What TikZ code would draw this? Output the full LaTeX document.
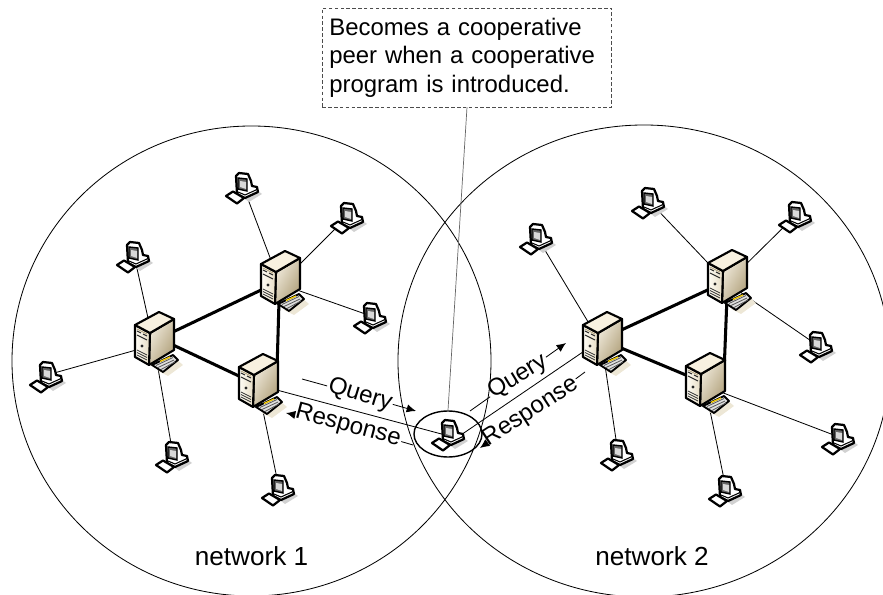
\documentclass[tikz,border=0pt]{standalone}
\usepackage{fontspec}
\setmainfont{Liberation Sans}
\usetikzlibrary{shapes.geometric,arrows.meta}
\definecolor{srvlight}{HTML}{FFFDF6}
\definecolor{srvtop}{HTML}{F8F1E0}
\definecolor{srvmid}{HTML}{E6DCC4}
\definecolor{srvdark}{HTML}{B0A07A}
\tikzset{
  lbl/.style={font=\fontsize{20.5}{24}\selectfont,inner sep=1pt},
  netlbl/.style={font=\fontsize{22.3}{26}\selectfont,inner sep=1pt},
  spoke/.style={line width=0.7pt},
  backbone/.style={line width=2.6pt},
  msg/.style={spoke,-{Latex[length=8pt,width=7pt]}},
  pics/server/.style={code={
    \fill[srvmid!70] (4,26) -- (22,14) -- (29,20) -- (14,31) -- cycle;
    \draw[line width=1.8pt,line join=round,left color=srvmid!60,right color=srvdark,shading angle=60]
      (-4,-12) -- (20,-26) -- (20,5) -- (-5,20) -- cycle;
    \draw[line width=1.8pt,line join=round,left color=srvlight,right color=srvmid]
      (-19,-20) -- (-4,-12) -- (-5,20) -- (-19,12) -- cycle;
    \draw[line width=1.8pt,line join=round,fill=srvtop] (-19,-20) -- (5,-33) -- (20,-26) -- (-4,-12) -- cycle;
    \draw[line width=0.9pt,black!85] (-17,-14) -- (-13,-12) (-11,-11) -- (-7,-9) (-17,-10) -- (-7,-5);
    \draw[line width=0.6pt,srvdark] (-17,-16) -- (-7,-11);
    \fill[black!85] (-12,1) circle [radius=1.7];
    \foreach \h in {5,7.5,10} \draw[line width=0.7pt,black!80] (-17,\h) -- (-7,\h+5);
    \draw[line width=1.6pt,line join=round,fill=black!12] (-2,20) -- (19,10) -- (24,15) -- (9,27) -- cycle;
    \draw[line width=0.7pt,black!65] (2,20.5) -- (19,12.5) (4,22.5) -- (20,15) (7,24.5) -- (21,17);
    \draw[line width=1.1pt,yellow!70!orange] (6,16.5) -- (16,12);
  }},
  pics/peer/.style={code={
    \fill[black!18] (2,13) -- (15,5) -- (19,8) -- (6,16) -- cycle;
    \draw[line width=1.9pt,line join=round,fill=white] (-7,-10) -- (-4,-13) -- (5,-12) -- (8,-5) -- (9,0) -- (14,1) -- (15,6) -- (2,12) -- (-6,8) -- cycle;
    \draw[line width=1.2pt,fill=black!60] (-5,-8) -- (4,-7) -- (4,5) -- (-5,3) -- cycle;
    \fill[white!85!black] (-3,-5) -- (3,-4) -- (3,3) -- (-3,1) -- cycle;
    \draw[line width=0.9pt] (-5,6) -- (2,9) -- (14,3.5);
    \draw[line width=1.9pt,line join=round,fill=white] (-17,10) -- (-10,5.5) -- (1,12) -- (-6,17.5) -- cycle;
  }},
}
\begin{document}
\begin{tikzpicture}[x=0.03cm,y=-0.03cm]
  \useasboundingbox (0,0) rectangle (883,595);
  \clip (0,0) rectangle (883,595);
  % networks
  \draw[spoke] (251.5,361) ellipse [x radius=239.5,y radius=235];
  \draw[spoke] (644,361) ellipse [x radius=246,y radius=236];
  \node[netlbl] (netone) at (251.5,556) {network 1};
  \node[netlbl] (nettwo) at (652,556) {network 2};
  % servers
  \coordinate (srvA) at (154,345);
  \coordinate (srvB) at (280,284);
  \coordinate (srvC) at (258,387);
  \coordinate (srvD) at (602,345);
  \coordinate (srvE) at (727,283);
  \coordinate (srvF) at (705,386);
  % peers
  \coordinate (pcA) at (243,186);
  \coordinate (pcB) at (348,216);
  \coordinate (pcC) at (134,255);
  \coordinate (pcD) at (371,316);
  \coordinate (pcE) at (47,375);
  \coordinate (pcF) at (173,455);
  \coordinate (pcG) at (279,488);
  \coordinate (pcH) at (649,201);
  \coordinate (pcI) at (796,215);
  \coordinate (pcJ) at (537,237);
  \coordinate (pcK) at (817,345);
  \coordinate (pcL) at (839,437);
  \coordinate (pcM) at (618,453);
  \coordinate (pcN) at (726,489);
  \coordinate (pcX) at (449,433);
  % backbone ends
  \coordinate (bbAB) at (154,341);
  \coordinate (bbBA) at (280,281);
  \coordinate (bbAC) at (154,336);
  \coordinate (bbCA) at (258,385);
  \coordinate (bbBC) at (279.5,284);
  \coordinate (bbCB) at (276.5,387);
  \coordinate (bbDE) at (602,339);
  \coordinate (bbED) at (727,281);
  \coordinate (bbDF) at (602,340);
  \coordinate (bbFD) at (705,383);
  \coordinate (bbEF) at (727.5,284);
  \coordinate (bbFE) at (723.5,386);
  \coordinate (pcXl) at (449,436);
  \coordinate (pcXr) at (455,439);
  % links
  \foreach \a/\b in {bbAB/bbBA,bbAC/bbCA,bbBC/bbCB,bbDE/bbED,bbDF/bbFD,bbEF/bbFE}
    \draw[backbone] (\a) -- (\b);
  \foreach \a/\b in {srvB/pcA,srvB/pcB,srvA/pcC,srvB/pcD,srvA/pcE,srvA/pcF,srvC/pcG,
                     srvE/pcH,srvE/pcI,srvD/pcJ,srvE/pcK,srvF/pcL,srvD/pcM,srvF/pcN,
                     bbCA/pcXl,bbDE/pcXr}
    \draw[spoke] (\a) -- (\b);
  % icons
  \foreach \p in {srvA,srvB,srvC,srvD,srvE,srvF} \pic at (\p) {server};
  \foreach \p in {pcA,pcB,pcC,pcD,pcE,pcF,pcG,pcH,pcI,pcJ,pcK,pcL,pcM,pcN,pcX} \pic at (\p) {peer};
  % callout
  \node[lbl,draw=black!70,densely dashed,line width=0.4pt,fill=white,align=left,inner xsep=6pt,inner ysep=0pt,
        text width=8.26cm,minimum height=2.97cm,font=\fontsize{20.4}{24.4}\selectfont] (note) at (467,57.5)
    {Becomes a cooperative\\peer when a cooperative\\program is introduced.};
  \node[draw,ellipse,line width=1.2pt,minimum width=2.04cm,minimum height=1.38cm,inner sep=0pt] (ring) at (448,434) {};
  \draw[line width=0.6pt,black!60] (note.south) -- (ring.north);
  % messages
  \coordinate (qlS) at (302,379);
  \coordinate (qlE) at (416,411);
  \coordinate (rlS) at (413,445);
  \coordinate (rlE) at (286,413);
  \coordinate (qrS) at (470,411);
  \coordinate (qrE) at (566,343);
  \coordinate (rrS) at (585,372);
  \coordinate (rrE) at (480,448);
  \node[lbl,rotate=-17] (queryL) at (360,395) {Query};
  \node[lbl,rotate=-15] (respL) at (348,426) {Response};
  \node[lbl,rotate=31] (queryR) at (518,377) {Query};
  \node[lbl,rotate=33] (respR) at (531,412) {Response};
  \draw[spoke] (qlS) -- (queryL);
  \draw[msg] (queryL) -- (qlE);
  \draw[spoke] (rlS) -- (respL);
  \draw[msg] (respL) -- (rlE);
  \draw[spoke] (qrS) -- (queryR);
  \draw[msg] (queryR) -- (qrE);
  \draw[spoke] (rrS) -- (respR);
  \draw[msg] (respR) -- (rrE);
\end{tikzpicture}
\end{document}
